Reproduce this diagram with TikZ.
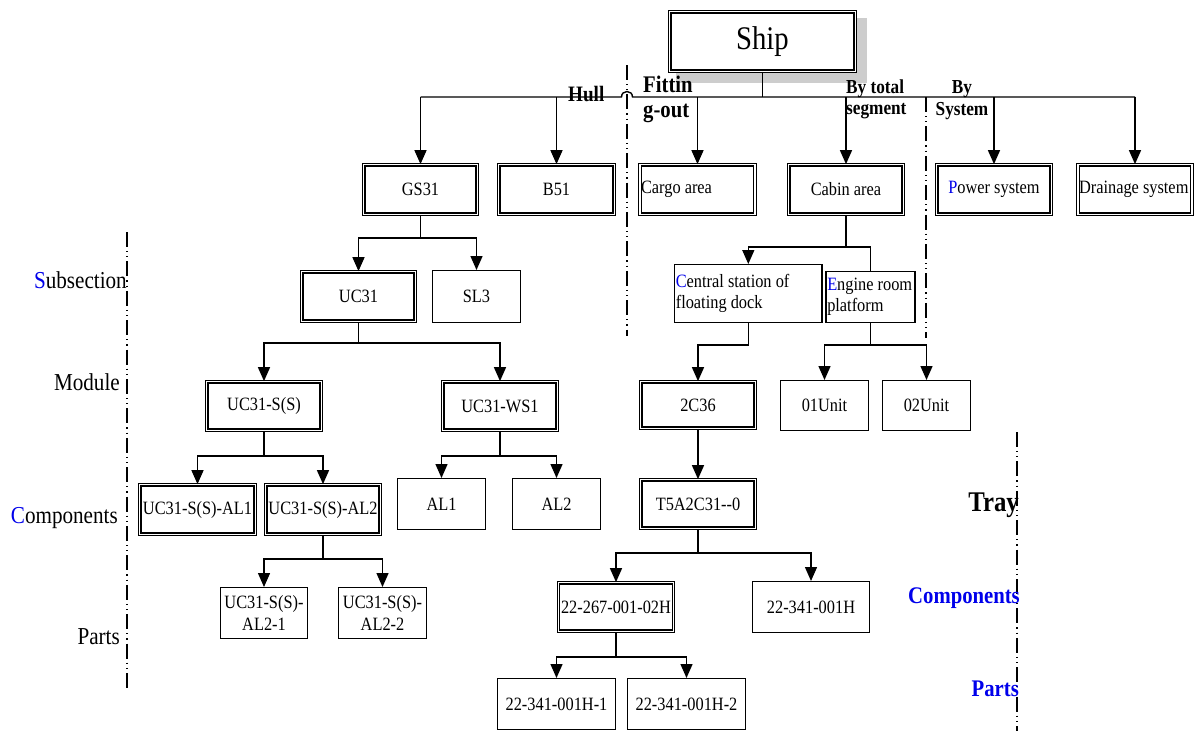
\documentclass[tikz,border=0pt]{standalone}
\usepackage{fontspec}
\setmainfont{Liberation Serif}[FakeStretch=0.87]
\usetikzlibrary{arrows.meta,backgrounds}
\definecolor{lblue}{RGB}{0,0,235}
\definecolor{shadegray}{RGB}{205,205,205}
\tikzset{
  box/.style={draw, line width=1.4pt, fill=white, inner sep=1pt, align=center,
    font=\fontsize{18.8}{21.5}\selectfont},
  dbox/.style={box, line width=1.1pt, double, double distance=1.5pt},
  lbox/.style={align=flush left, inner xsep=1.2pt},
  conn/.style={line width=1.4pt},
  arr/.style={conn, -{Triangle[length=14pt,width=12pt]}},
  divider/.style={line width=1.4pt, dash pattern=on 15pt off 4pt on 1.2pt off 4pt on 1.2pt off 4pt},
  lvl/.style={anchor=base east, inner sep=0pt, font=\fontsize{24.3}{28}\selectfont},
  tag/.style={inner sep=0pt, font=\bfseries\fontsize{23.8}{25}\selectfont},
}
\begin{document}
\begin{tikzpicture}[x=1pt,y=-1pt]
\useasboundingbox (0,0) rectangle (1203,731);

% ---- dividers between the breakdown schemes ----
\draw[divider] (627,65) -- (627,336);
\draw[divider] (926,97) -- (926,338);
\draw[divider] (127,232) -- (127,688);
\draw[divider] (1017,432) -- (1017,731);

% ---- top node ----
\node[dbox, minimum width=185.6pt, minimum height=59.6pt, font=\fontsize{33}{36}\selectfont] (ship) at (762.5,41.5) {Ship};
\begin{scope}[on background layer]
  \fill[shadegray] ([shift={(7.3,7.3)}]ship.north west) rectangle ([shift={(10.7,10.7)}]ship.south east);
\end{scope}

% ---- first level ----
\node[dbox, minimum width=113.6pt, minimum height=49.6pt] (gs31) at (420.5,189.5) {GS31};
\node[dbox, minimum width=115.6pt, minimum height=49.6pt] (b51) at (556.5,189.5) {B51};
\node[dbox, lbox, text width=113pt, minimum height=49.6pt] (cargo) at (697.5,189.5) {Cargo area};
\node[dbox, minimum width=114.6pt, minimum height=49.6pt] (cabin) at (846,189.5) {Cabin area};
\node[dbox, minimum width=114.6pt, minimum height=49.6pt] (power) at (994,189.5) {\textcolor{lblue}{P}ower system};
\node[dbox, lbox, text width=112pt, minimum height=49.6pt] (drain) at (1135,189.5) {\mbox{Drainage system}};

% ---- subsection level ----
\node[dbox, minimum width=113.6pt, minimum height=49.6pt] (uc31) at (358.5,296.5) {UC31};
\node[box, minimum width=87.6pt, minimum height=51.6pt] (sl3) at (476.5,296.5) {SL3};
\node[box, lbox, text width=145pt, minimum height=57.6pt] (central) at (748.3,293.5) {\textcolor{lblue}{C}entral station of\\floating dock};
\node[box, lbox, text width=86.5pt, minimum height=51pt] (engine) at (870.5,296.8) {\mbox{\textcolor{lblue}{E}ngine room}\\platform};

% ---- module level ----
\node[dbox, minimum width=114.6pt, minimum height=48.6pt] (ucss) at (264,406) {UC31-S(S)};
\node[dbox, minimum width=114.6pt, minimum height=48.6pt] (ucws) at (500,406) {UC31-WS1};
\node[dbox, minimum width=114.6pt, minimum height=46.6pt] (c36) at (698,405) {2C36};
\node[box, minimum width=87.6pt, minimum height=49.6pt] (u01) at (824.5,405.5) {01Unit};
\node[box, minimum width=87.6pt, minimum height=49.6pt] (u02) at (926.5,405.5) {02Unit};

% ---- component level ----
\node[dbox, minimum width=115.6pt, minimum height=49.6pt] (ssal1) at (197.5,509.5) {UC31-S(S)-AL1};
\node[dbox, minimum width=114.6pt, minimum height=49.6pt] (ssal2) at (323,509.5) {UC31-S(S)-AL2};
\node[box, minimum width=87.6pt, minimum height=50.6pt] (al1) at (441.5,504) {AL1};
\node[box, minimum width=87.6pt, minimum height=50.6pt] (al2) at (556.5,504) {AL2};
\node[dbox, minimum width=114.6pt, minimum height=48.6pt] (t5a) at (698,504) {T5A2C31-{}-0};

% ---- part level ----
\node[box, minimum width=86.6pt, minimum height=50.6pt] (p1) at (264,613) {UC31-S(S)-\\AL2-1};
\node[box, minimum width=87.6pt, minimum height=50.6pt] (p2) at (382.5,613) {UC31-S(S)-\\AL2-2};
\node[dbox, minimum width=115.1pt, minimum height=48.6pt] (h02) at (616,607) {22-267-001-02H};
\node[box, minimum width=117.1pt, minimum height=50.6pt] (h341) at (811,607) {22-341-001H};
\node[box, minimum width=117.6pt, minimum height=50.6pt] (h1) at (556.5,704) {22-341-001H-1};
\node[box, minimum width=117.6pt, minimum height=50.6pt] (h2) at (686.5,704) {22-341-001H-2};

% ---- level captions ----
\node[lvl] (lsub) at (127,288) {\textcolor{lblue}{S}ubsection};
\node[lvl] (lmod) at (120,390) {Module};
\node[lvl] (lcom) at (118,523) {\textcolor{lblue}{C}omponents};
\node[lvl] (lpar) at (120,644) {Parts};
\node[tag, anchor=base east, font=\bfseries\fontsize{28.5}{30}\selectfont] (tray) at (1019,511.7) {Tray};
\node[tag, anchor=base east, text=lblue] (rcom) at (1020,603) {Components};
\node[tag, anchor=base east, text=lblue] (rpar) at (1019,696.7) {Parts};

% ---- scheme captions on the main bar ----
\node[tag, anchor=base west, font=\bfseries\fontsize{22}{24}\selectfont] (hull) at (568,101.5) {Hull};
\node[tag, anchor=north west, align=left] (fit) at (643,76) {Fittin\\g-out};
\node[tag, anchor=north west, align=left, font=\bfseries\fontsize{19.8}{21}\selectfont] (seg) at (846,80) {By total\\segment};
\node[tag, anchor=north, align=center, font=\bfseries\fontsize{19.8}{22.5}\selectfont] (sys) at (962,80) {By\\System};

% ---- main bar ----
\coordinate (bar0) at (0,97);
\coordinate (hopL) at (621.5,97);
\coordinate (hopR) at (632.5,97);
\draw[conn] (ship.south) -- (ship.south |- bar0);
\draw[conn] (gs31.north |- bar0) -- (hopL) .. controls (621.5,89.7) and (632.5,89.7) .. (hopR) -- (drain.north |- bar0);
\foreach \n in {gs31,b51,cargo,cabin,power,drain}
  \draw[arr] (\n.north |- bar0) -- (\n.north);

% ---- branch connectors ----
\coordinate (y1) at (0,238);
\draw[arr] (gs31.south) -- (gs31.south |- y1) -| (uc31.north);
\draw[arr] (gs31.south |- y1) -| (sl3.north);

\coordinate (y2) at (0,247);
\draw[arr] (cabin.south) -- (cabin.south |- y2) -| (central.north);
\draw[conn] (cabin.south |- y2) -| (engine.north);

\coordinate (y3) at (0,343);
\draw[arr] (uc31.south) -- (uc31.south |- y3) -| (ucss.north);
\draw[arr] (uc31.south |- y3) -| (ucws.north);

\coordinate (y4) at (0,345);
\draw[arr] (central.south) -- (central.south |- y4) -| (c36.north);
\draw[arr] (engine.south) -- (engine.south |- y4) -| (u01.north);
\draw[arr] (engine.south |- y4) -| (u02.north);

\coordinate (y5) at (0,456);
\draw[arr] (ucss.south) -- (ucss.south |- y5) -| (ssal1.north);
\draw[arr] (ucss.south |- y5) -| (ssal2.north);
\draw[arr] (ucws.south) -- (ucws.south |- y5) -| (al1.north);
\draw[arr] (ucws.south |- y5) -| (al2.north);
\draw[arr] (c36.south) -- (t5a.north);

\coordinate (y6) at (0,559);
\draw[arr] (ssal2.south) -- (ssal2.south |- y6) -| (p1.north);
\draw[arr] (ssal2.south |- y6) -| (p2.north);

\coordinate (y7) at (0,553);
\draw[arr] (t5a.south) -- (t5a.south |- y7) -| (h02.north);
\draw[arr] (t5a.south |- y7) -| (h341.north);

\coordinate (y8) at (0,657);
\draw[arr] (h02.south) -- (h02.south |- y8) -| (h1.north);
\draw[arr] (h02.south |- y8) -| (h2.north);
\end{tikzpicture}
\end{document}
